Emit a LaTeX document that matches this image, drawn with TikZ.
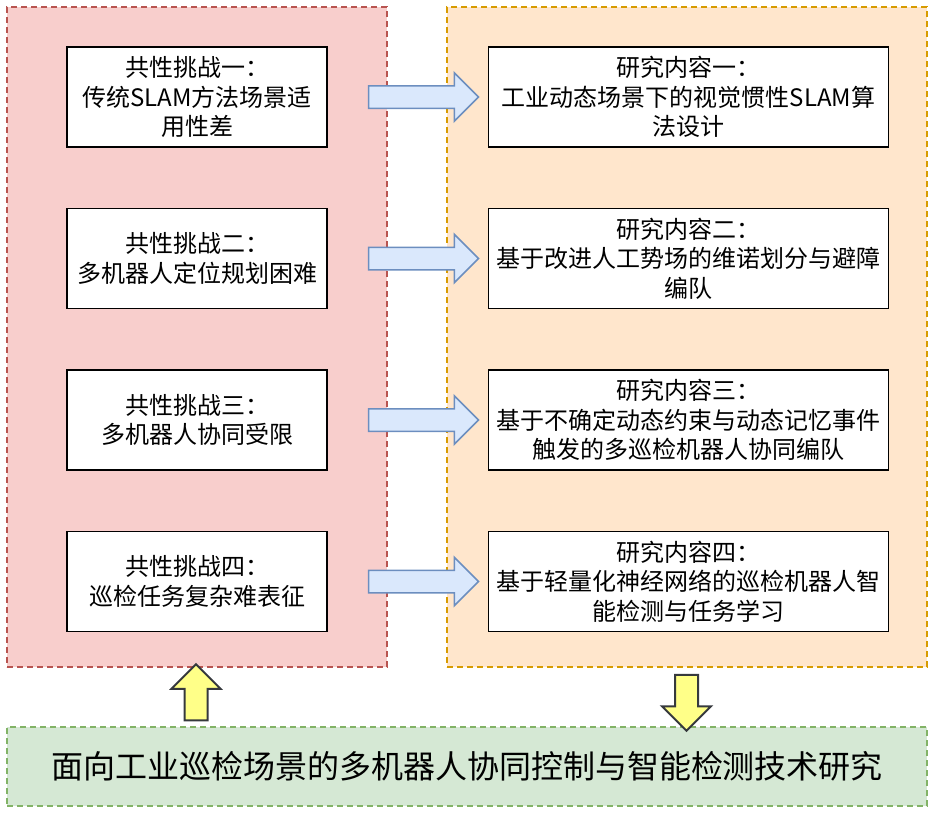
\documentclass[tikz,border=0pt]{standalone}
\usepackage{fontspec}
\setmainfont{Noto Sans CJK SC}
\usetikzlibrary{
    positioning,
    calc,
    shapes.arrows
}
\definecolor{RosaClaro}{HTML}{F8CECC}
\definecolor{RosaBorda}{HTML}{B85450}
\definecolor{LaranjaClaro}{HTML}{FFE6CC}
\definecolor{LaranjaBorda}{HTML}{D79B00}
\definecolor{VerdeClaro}{HTML}{D5E8D4}
\definecolor{VerdeBorda}{HTML}{82B366}
\definecolor{AzulClaro}{HTML}{DAE8FC}
\definecolor{AzulBorda}{HTML}{6C8EBF}
\definecolor{AmareloClaro}{HTML}{FFFF88}
\definecolor{CinzaEscuro}{HTML}{36393D}

\tikzset{
    painel/.style={
        rectangle,
        dash pattern=on 6pt off 4pt,
        line width=1.5pt,
        inner sep=0pt
    },
    caixa/.style={
        draw=black,
        fill=white,
        line width=1.5pt,
        minimum height=100pt,
        align=center,
        inner sep=0pt,
        font=\fontsize{24}{29.5}\selectfont
    },
    setaazul/.style={
        single arrow,
        draw=AzulBorda,
        fill=AzulClaro,
        line width=1.5pt,
        minimum height=110pt,
        inner xsep=0pt,
        inner ysep=10.5pt,
        single arrow head extend=13pt
    },
    setaamarela/.style={
        single arrow,
        draw=CinzaEscuro,
        fill=AmareloClaro,
        line width=2pt,
        minimum height=56pt,
        inner xsep=0pt,
        inner ysep=10.5pt,
        single arrow head extend=13pt
    }
}

\begin{document}
\begin{tikzpicture}[x=1pt,y=-1pt]

    \useasboundingbox (0,0) rectangle (934,814);

    \node[painel, draw=RosaBorda, fill=RosaClaro,
          minimum width=380pt, minimum height=660pt]
        (painelEsq) at (197,337) {};
    \node[painel, draw=LaranjaBorda, fill=LaranjaClaro,
          minimum width=480pt, minimum height=660pt]
        (painelDir) at (687,337) {};
    \node[painel, draw=VerdeBorda, fill=VerdeClaro,
          minimum width=920pt, minimum height=79pt,
          font=\fontsize{32}{38}\selectfont]
        (tema) at (467,766.5) {面向工业巡检场景的多机器人协同控制与智能检测技术研究};

    \node[caixa, minimum width=260pt] (desafio1) at (197,97)
        {共性挑战一：\\传统SLAM方法场景适\\用性差};
    \node[caixa, minimum width=260pt, below=60pt of desafio1] (desafio2)
        {共性挑战二：\\多机器人定位规划困难};
    \node[caixa, minimum width=260pt, below=60pt of desafio2] (desafio3)
        {共性挑战三：\\多机器人协同受限};
    \node[caixa, minimum width=260pt, below=60pt of desafio3] (desafio4)
        {共性挑战四：\\巡检任务复杂难表征};

    \node[caixa, minimum width=400pt, right=160pt of desafio1] (conteudo1)
        {研究内容一：\\工业动态场景下的视觉惯性SLAM算\\法设计};
    \node[caixa, minimum width=400pt, right=160pt of desafio2] (conteudo2)
        {研究内容二：\\基于改进人工势场的维诺划分与避障\\编队};
    \node[caixa, minimum width=400pt, right=160pt of desafio3] (conteudo3)
        {研究内容三：\\基于不确定动态约束与动态记忆事件\\触发的多巡检机器人协同编队};
    \node[caixa, minimum width=400pt, right=160pt of desafio4] (conteudo4)
        {研究内容四：\\基于轻量化神经网络的巡检机器人智\\能检测与任务学习};

    \foreach \i in {1,...,4}{
        \node[setaazul, right=40pt of desafio\i] (seta\i) {};
    }

    \node[setaamarela, rotate=90] (subida) at (196,698) {};
    \node[setaamarela, rotate=-90] (descida) at (686.5,697) {};

\end{tikzpicture}
\end{document}
